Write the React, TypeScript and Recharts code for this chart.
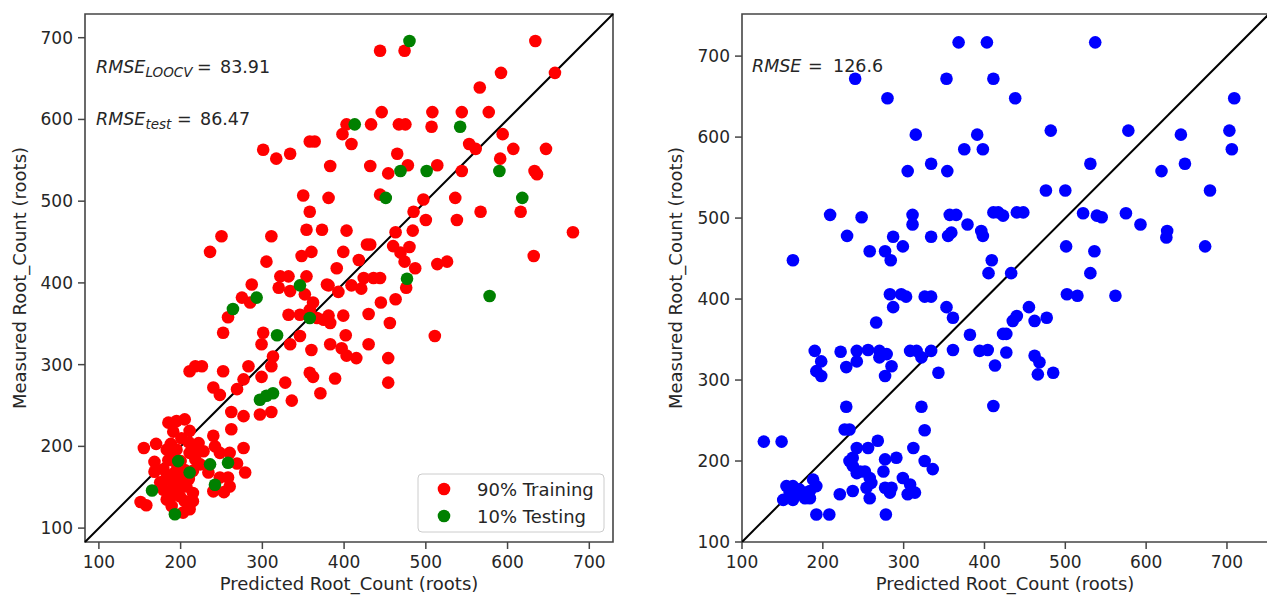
import React from 'react';
import { ScatterChart, Scatter, XAxis, YAxis, ReferenceLine, ReferenceArea } from 'recharts';

// predicted vs measured root counts
const ticks = [100, 200, 300, 400, 500, 600, 700];
const leftDomain: [number, number] = [83, 729];
const rightDomain: [number, number] = [100, 752];

const trainingPoints: [number, number][] = [
  [444, 684], [474, 684], [634, 696], [592, 657], [658, 657], [566, 639],
  [446, 609], [508, 609], [544, 609], [577, 609],
  [403, 594], [433, 594], [467, 594], [475, 594], [507, 591],
  [398, 582], [409, 570], [358, 573], [364, 573], [594, 582], [553, 570], [561, 564], [607, 564], [647, 564],
  [465, 558], [383, 543], [432, 543], [478, 544], [514, 544], [454, 534], [544, 537], [591, 552], [633, 537], [636, 533],
  [350, 507], [381, 504], [444, 508], [536, 504], [497, 502], [301, 563], [317, 552], [334, 558],
  [616, 487], [358, 487], [485, 487], [567, 487], [500, 477], [538, 477], [354, 465], [373, 465], [403, 464], [463, 462], [484, 464], [680, 462],
  [250, 457], [311, 457], [236, 438], [360, 438], [399, 438], [428, 447], [432, 447], [460, 445], [469, 437], [480, 444],
  [348, 433], [305, 426], [418, 428], [474, 426], [487, 418], [514, 423], [526, 426], [632, 433], [391, 418],
  [424, 406], [436, 406], [444, 406], [322, 408], [332, 408], [354, 408],
  [381, 397], [409, 397], [421, 393], [476, 394], [393, 389], [379, 398], [287, 398], [320, 394], [334, 390], [352, 386],
  [463, 380], [445, 376], [430, 362], [456, 351], [399, 360], [381, 360], [375, 355], [367, 357], [383, 351],
  [402, 336], [346, 335], [511, 335], [383, 325], [360, 318], [397, 320], [403, 311], [415, 308], [430, 325], [454, 308],
  [275, 382], [285, 376], [362, 376], [358, 367], [332, 361], [346, 361], [258, 358], [301, 339], [252, 339], [299, 325], [334, 325], [313, 310],
  [358, 290], [362, 285], [389, 283], [371, 265], [454, 278], [226, 298], [252, 292], [283, 298], [311, 298], [299, 285], [277, 282], [328, 278],
  [240, 272], [248, 263], [269, 270], [336, 256], [262, 242], [277, 237], [297, 239], [311, 242], [211, 292], [218, 298], [262, 221],
  [185, 229], [195, 231], [205, 233], [191, 218], [211, 219], [240, 213], [155, 198], [170, 203], [183, 196], [195, 196], [222, 204], [228, 194], [242, 200], [248, 192], [260, 192], [277, 198],
  [168, 181], [211, 192], [218, 184], [224, 178], [269, 179], [279, 168], [168, 169], [179, 172], [187, 164], [199, 160], [207, 151], [234, 168], [248, 162], [258, 162], [260, 151], [240, 145], [253, 144],
  [151, 132], [158, 128], [179, 147], [183, 135], [189, 127], [199, 139], [205, 133], [215, 143], [215, 133], [203, 119], [211, 123], [191, 151], [195, 143], [175, 156], [193, 168],
  [190, 190], [200, 182], [205, 171], [200, 150], [190, 140], [210, 160], [185, 183], [196, 176], [182, 160], [210, 205], [201, 210], [220, 196], [215, 170], [188, 203],
];

const testingPoints: [number, number][] = [
  [480, 696], [413, 594], [542, 591], [469, 537], [501, 537], [590, 537], [451, 504], [618, 504],
  [477, 405], [578, 384], [358, 357], [346, 397], [293, 382], [264, 368], [318, 336],
  [297, 257], [305, 262], [313, 265], [197, 182], [211, 168], [236, 178], [258, 180], [242, 153], [165, 146], [193, 117],
];

const validationPoints: [number, number][] = [
  [368, 717], [403, 717], [537, 717], [240, 672], [353, 672], [411, 672], [280, 648], [438, 648], [709, 648],
  [315, 603], [391, 603], [643, 603], [482, 608], [578, 608], [703, 608], [375, 585], [398, 585], [706, 585],
  [305, 558], [334, 567], [354, 558], [531, 567], [619, 558], [648, 567],
  [209, 504], [248, 501], [230, 478], [287, 477], [311, 504], [311, 492], [334, 477], [355, 478], [359, 482], [357, 504], [365, 504], [379, 492], [396, 484], [398, 478],
  [411, 507], [417, 507], [423, 503], [440, 507], [448, 507], [476, 534], [500, 534], [679, 534], [522, 506], [539, 503], [545, 501], [575, 506], [593, 492], [626, 484], [625, 476], [673, 465], [501, 465],
  [258, 459], [277, 459], [284, 448], [299, 465], [163, 448], [409, 448], [405, 432], [433, 432], [536, 459], [531, 432],
  [283, 406], [297, 406], [303, 403], [326, 403], [334, 403], [502, 406], [515, 404], [562, 404],
  [287, 390], [353, 390], [361, 377], [266, 371], [382, 356], [423, 357], [427, 357], [435, 373], [440, 379], [455, 390], [462, 373], [477, 377],
  [190, 336], [198, 323], [192, 311], [198, 305], [222, 335], [229, 316], [242, 323], [242, 336], [256, 337], [270, 336], [279, 332], [270, 328], [285, 317], [277, 305],
  [308, 336], [316, 336], [322, 328], [334, 336], [343, 309], [361, 337], [394, 336], [404, 337], [427, 334], [413, 318], [462, 330], [468, 322], [466, 307], [485, 309],
  [229, 267], [322, 267], [411, 268], [227, 239], [233, 239], [326, 238], [127, 224], [149, 224],
  [242, 216], [237, 204], [233, 200], [256, 216], [268, 225], [312, 216], [277, 202], [291, 204], [237, 194], [246, 187], [242, 185], [252, 187], [275, 187],
  [258, 179], [260, 173], [254, 167], [237, 163], [258, 154], [277, 167], [285, 167], [283, 161], [326, 200], [336, 190], [299, 179], [308, 171], [314, 161], [305, 159],
  [221, 159], [192, 134], [208, 134], [278, 134],
  [188, 177], [192, 169], [184, 163], [184, 154], [180, 161], [155, 169], [163, 169], [171, 165], [159, 161], [151, 152], [163, 152], [178, 154], [167, 158],
];

const FONT = '"DejaVu Sans", sans-serif';
const INK = '#262626';
const FRAME = '#454545';

const toXY = (pts: [number, number][]) => pts.map(([x, y]) => ({ x, y }));

const dot = (color: string) => (props: any) =>
  <circle cx={props.cx} cy={props.cy} r={6.3} fill={color} />;

const tickStyle = { fill: INK, fontSize: 17, fontFamily: FONT };
const tickLineStyle = { stroke: FRAME, strokeWidth: 1.5 };

function axes(domain: [number, number]) {
  return [
    <XAxis
      key="x"
      type="number"
      dataKey="x"
      domain={domain}
      ticks={ticks}
      allowDataOverflow
      height={57}
      tickSize={7}
      tickMargin={7}
      axisLine={false}
      tickLine={tickLineStyle}
      tick={tickStyle}
    />,
    <YAxis
      key="y"
      type="number"
      dataKey="y"
      domain={domain}
      ticks={ticks}
      allowDataOverflow
      width={85}
      tickSize={7}
      tickMargin={5}
      axisLine={false}
      tickLine={tickLineStyle}
      tick={tickStyle}
    />,
  ];
}

function frame(domain: [number, number]) {
  return [
    <ReferenceLine
      key="diag"
      segment={[{ x: domain[0], y: domain[0] }, { x: domain[1], y: domain[1] }]}
      stroke="#000"
      strokeWidth={2}
      ifOverflow="visible"
    />,
    <ReferenceArea
      key="box"
      x1={domain[0]}
      x2={domain[1]}
      y1={domain[0]}
      y2={domain[1]}
      fill="none"
      fillOpacity={0}
      stroke={FRAME}
      strokeWidth={1.6}
      ifOverflow="visible"
    />,
  ];
}

export default function App() {
  return (
    <div style={{ position: 'absolute', left: 0, top: 0, width: 1267, height: 599, overflow: 'hidden', background: '#fff' }}>
      <div style={{ position: 'absolute', left: 0, top: 0 }}>
        <ScatterChart width={640} height={599} margin={{ top: 14, right: 27, bottom: 0, left: 0 }}>
          {axes(leftDomain)}
          <Scatter data={toXY(trainingPoints)} shape={dot('#ff0000')} isAnimationActive={false} />
          <Scatter data={toXY(testingPoints)} shape={dot('#008000')} isAnimationActive={false} />
          {frame(leftDomain)}
        </ScatterChart>
      </div>
      <div style={{ position: 'absolute', left: 657, top: 0 }}>
        <ScatterChart width={612} height={599} margin={{ top: 14, right: 0, bottom: 0, left: 0 }}>
          {axes(rightDomain)}
          <Scatter data={toXY(validationPoints)} shape={dot('#0000ff')} isAnimationActive={false} />
          {frame(rightDomain)}
        </ScatterChart>
      </div>

      <svg width={1267} height={599} style={{ position: 'absolute', left: 0, top: 0, pointerEvents: 'none' }} fontFamily={FONT} fill={INK}>
        {/* axis titles */}
        <text x={349} y={590} fontSize={18} textAnchor="middle">Predicted Root_Count (roots)</text>
        <text x={1005} y={590} fontSize={18} textAnchor="middle">Predicted Root_Count (roots)</text>
        <text transform="translate(26,278) rotate(-90)" fontSize={18} textAnchor="middle">Measured Root_Count (roots)</text>
        <text transform="translate(682,278) rotate(-90)" fontSize={18} textAnchor="middle">Measured Root_Count (roots)</text>

        {/* rmse notes */}
        <text x={96} y={73} fontSize={17.5}>
          <tspan fontStyle="italic">RMSE</tspan>
          <tspan fontStyle="italic" fontSize={13.5} dy={4}>LOOCV</tspan>
          <tspan x={197} dy={-4}>=</tspan>
          <tspan x={220}>83.91</tspan>
        </text>
        <text x={96} y={125} fontSize={17.5}>
          <tspan fontStyle="italic">RMSE</tspan>
          <tspan fontStyle="italic" fontSize={13.5} dy={4}>test</tspan>
          <tspan x={177} dy={-4}>=</tspan>
          <tspan x={200}>86.47</tspan>
        </text>
        <text x={752} y={72} fontSize={17.5}>
          <tspan fontStyle="italic">RMSE</tspan>
          <tspan x={808}>=</tspan>
          <tspan x={833}>126.6</tspan>
        </text>

        {/* legend */}
        <rect x={418} y={474} width={186} height={58} rx={4} fill="#fff" fillOpacity={0.8} stroke="#cccccc" strokeWidth={1} />
        <circle cx={444} cy={489} r={6.3} fill="#ff0000" />
        <circle cx={444} cy={516} r={6.3} fill="#008000" />
        <text x={477} y={496} fontSize={18}>90% Training</text>
        <text x={477} y={523} fontSize={18}>10% Testing</text>
      </svg>
    </div>
  );
}
